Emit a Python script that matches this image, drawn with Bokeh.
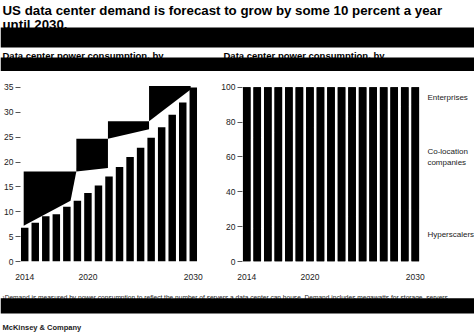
from bokeh.plotting import figure
from bokeh.models import Range1d, FixedTicker, ColumnDataSource
from bokeh.core.properties import value
from bokeh.layouts import column, row
from bokeh.embed import file_html
from bokeh.resources import INLINE

# ---------------- data ----------------
years = list(range(2014, 2031))
demand_gw = [6.8, 7.8, 9.1, 9.5, 11.0, 12.2, 13.8, 15.3, 17.1, 19.0, 21.0,
             22.9, 24.9, 27.0, 29.5, 32.0, 35.0]

# share by segment (stack totals 100, all drawn in black in the reference)
hyperscalers = [18, 19, 20, 21, 22, 22, 23, 24, 25, 26, 26, 27, 28, 29, 29, 30, 30]
colocation = [52, 52, 52, 53, 53, 54, 54, 55, 55, 56, 57, 57, 58, 58, 59, 59, 60]
enterprises = [30, 29, 28, 26, 25, 24, 23, 21, 20, 18, 17, 16, 14, 13, 12, 11, 10]
segment_names = ["Enterprises", "Co-location\ncompanies", "Hyperscalers"]
segment_label_y = [94, 60, 15.3]

# growth annotation blocks (in data units)
block_bottom_x = [[2013.9, 2018.35, 2018.9], [2018.9, 2021.9],
                  [2021.9, 2025.8], [2025.8, 2029.75]]
block_bottom_y = [[7.2, 12.2, 18.1], [18.1, 18.8], [24.7, 26.6], [28.2, 34.6]]
block_top = [18.1, 24.7, 28.2, 35.3]

left_yticks = [0, 5, 10, 15, 20, 25, 30, 35]
right_yticks = [0, 20, 40, 60, 80, 100]
xticks = [2014, 2020, 2030]

title_lines = ["US data center demand is forecast to grow by some 10 percent a year",
               "until 2030."]
subtitle = "Data center power consumption, by"
footnote = ("\u00b9Demand is measured by power consumption to reflect the number of servers "
            "a data center can house. Demand includes megawatts for storage, servers")
source_text = "McKinsey & Company"

FONT = "Liberation Sans"
W = 474


def bare(fig):
    fig.axis.visible = False
    fig.grid.visible = False
    fig.outline_line_color = None
    fig.min_border = 0
    fig.background_fill_color = "white"
    fig.border_fill_color = "white"


# ---------------- header ----------------
header = figure(width=W, height=72, x_range=Range1d(0, W), y_range=Range1d(72, 0),
                output_backend="svg", toolbar_location=None)
bare(header)
header.text(x=[2, 2], y=[9.5, 24.0], text=title_lines, text_font=value(FONT),
            text_font_size="13.3px", text_font_style="bold", text_color="black",
            text_baseline="alphabetic")
header.text(x=[2, 223], y=[54.5, 54.5], text=[subtitle, subtitle], text_font=value(FONT),
            text_font_size="9.5px", text_font_style="bold", text_color="black",
            text_baseline="alphabetic")
header.quad(left=[0, 0], right=[W, W], top=[27, 57], bottom=[47, 70.5],
            fill_color="black", line_color=None)


def style_axes(p, yticks):
    p.yaxis.ticker = FixedTicker(ticks=yticks)
    p.xaxis.ticker = FixedTicker(ticks=xticks)
    p.grid.visible = False
    p.outline_line_color = None
    for ax in (p.xaxis[0], p.yaxis[0]):
        ax.axis_line_color = None
        ax.minor_tick_line_color = None
        ax.major_label_text_font = FONT
        ax.major_label_text_font_size = "8.5px"
        ax.major_label_text_color = "#222222"
    p.yaxis.major_tick_out = 5
    p.yaxis.major_tick_in = 0
    p.yaxis.major_tick_line_color = "#555555"
    p.yaxis.major_label_standoff = 2
    p.xaxis.major_tick_line_color = None
    p.xaxis.major_label_standoff = 6


PX_PER_YEAR = 177 / 16.8
X0 = 2013.6
X1 = X0 + 177 / PX_PER_YEAR

# ---------------- left chart ----------------
left = figure(width=210, height=210, x_range=Range1d(X0, X1), y_range=Range1d(0, 36),
              output_backend="svg", toolbar_location=None,
              min_border_left=20, min_border_right=13, min_border_top=10, min_border_bottom=20)
left.background_fill_color = "white"
style_axes(left, left_yticks)

xs, ys = [], []
for bx, by, top in zip(block_bottom_x, block_bottom_y, block_top):
    xs.append(bx + [bx[-1], bx[0]])
    ys.append(by + [top, top])
left.patches(xs=xs, ys=ys, fill_color="black", line_color=None)

left.vbar(x=years, top=demand_gw, width=0.71, bottom=0, fill_color="black", line_color=None)

# ---------------- right chart ----------------
right = figure(width=264, height=210, x_range=Range1d(X0, X0 + 232 / PX_PER_YEAR),
               y_range=Range1d(0, 102.7),
               output_backend="svg", toolbar_location=None,
               min_border_left=32, min_border_right=0, min_border_top=10, min_border_bottom=20)
right.background_fill_color = "white"
style_axes(right, right_yticks)

totals = [h + c + e for h, c, e in zip(hyperscalers, colocation, enterprises)]
src = ColumnDataSource(dict(year=years, hyper=hyperscalers, colo=colocation,
                            ent=enterprises, total=totals))
right.vbar(x="year", top="total", width=0.72, source=src, fill_color="black", line_color=None)
right.vbar_stack(["hyper", "colo", "ent"], x="year", width=0.72, source=src,
                 fill_color=["black"] * 3, line_color=None)

right.text(x=[2031.15] * len(segment_names), y=segment_label_y, text=segment_names,
           text_font=value(FONT), text_font_size="8px", text_color="#222222",
           text_baseline="middle", text_line_height=1.15)

# ---------------- footer ----------------
footer = figure(width=W, height=52, x_range=Range1d(0, W), y_range=Range1d(334, 282),
                output_backend="svg", toolbar_location=None)
bare(footer)
footer.text(x=[2], y=[296.5], text=[footnote], text_font=value(FONT), text_font_size="6.6px",
            text_color="#222222", text_baseline="alphabetic")
footer.quad(left=[0], right=[W], top=[297.8], bottom=[313], fill_color="black", line_color=None)
footer.text(x=[2], y=[327], text=[source_text], text_font=value(FONT), text_font_size="7.5px",
            text_font_style="bold", text_color="#222222", text_baseline="alphabetic")

layout = column(header, row(left, right, spacing=0), footer, spacing=0)

open("out.html", "w").write(file_html(layout, INLINE))
